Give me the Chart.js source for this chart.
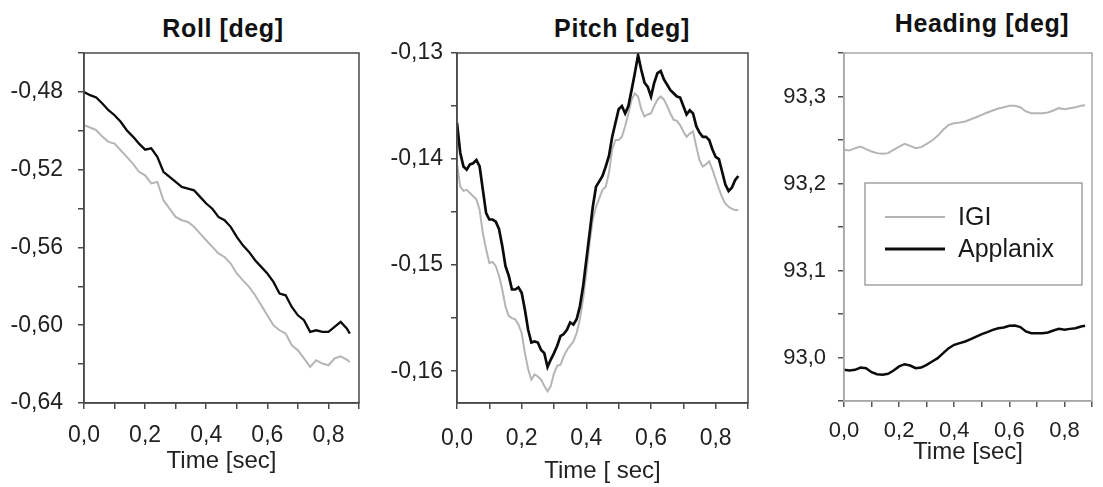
<!DOCTYPE html>
<html lang="en">
<head>
<meta charset="UTF-8">
<title>Roll / Pitch / Heading</title>
<script src="https://cdn.jsdelivr.net/npm/chart.js"></script>
<style>
body { margin: 0; background: #fff; font-family: "Liberation Sans", Arial, sans-serif; }
#wrap { position: relative; width: 1103px; height: 487px; overflow: hidden; }
#wrap canvas { position: absolute; top: 0; }
.ttl { position: absolute; font-weight: bold; font-size: 25px; line-height: 30px; color: #111;
       white-space: nowrap; transform: translateX(-50%); letter-spacing: 0.6px; }
</style>
</head>
<body>
<div id="wrap">
  <div class="ttl" style="left:223px; top:13px;">Roll [deg]</div>
  <div class="ttl" style="left:622px; top:13px;">Pitch [deg]</div>
  <div class="ttl" style="left:982px; top:8px;">Heading [deg]</div>
  <canvas id="roll" width="372" height="487" style="left:0px;"></canvas>
  <canvas id="pitch" width="392" height="487" style="left:372px;"></canvas>
  <canvas id="heading" width="339" height="487" style="left:764px;"></canvas>
</div>

<script>
// ---- data ----
const seriesNames = ['IGI', 'Applanix'];

const timeTicks = [0, 0.1, 0.2, 0.3, 0.4, 0.5, 0.6, 0.7, 0.8, 0.9];
const timeLabels = [0, 0.2, 0.4, 0.6, 0.8];

// Roll
const rollTime = [0,0.02,0.04,0.06,0.08,0.10,0.12,0.14,0.16,0.18,0.20,0.22,0.24,0.26,0.28,0.30,
  0.32,0.34,0.36,0.38,0.40,0.42,0.44,0.46,0.48,0.50,0.52,0.54,0.56,0.58,0.60,0.62,0.64,0.66,
  0.68,0.70,0.72,0.74,0.76,0.78,0.80,0.82,0.84,0.86,0.87];
const rollApplanix = [-0.4800,-0.4817,-0.4829,-0.4860,-0.4894,-0.4920,-0.4954,-0.4997,-0.5030,-0.5066,
  -0.5097,-0.5090,-0.5134,-0.5211,-0.5237,-0.5263,-0.5289,-0.5297,-0.5306,-0.5340,-0.5374,-0.5401,
  -0.5443,-0.5460,-0.5494,-0.5546,-0.5589,-0.5623,-0.5666,-0.5700,-0.5734,-0.5777,-0.5837,-0.5846,
  -0.5906,-0.5949,-0.5974,-0.6034,-0.6026,-0.6034,-0.6034,-0.6009,-0.5983,-0.6017,-0.6043];
const rollIGI = [-0.4971,-0.4983,-0.4997,-0.5030,-0.5057,-0.5066,-0.5100,-0.5134,-0.5169,-0.5211,
  -0.5229,-0.5271,-0.5263,-0.5357,-0.5400,-0.5443,-0.5460,-0.5469,-0.5494,-0.5529,-0.5563,-0.5597,
  -0.5631,-0.5649,-0.5683,-0.5734,-0.5769,-0.5803,-0.5846,-0.5897,-0.5949,-0.6000,-0.6026,-0.6043,
  -0.6103,-0.6129,-0.6171,-0.6214,-0.6180,-0.6197,-0.6206,-0.6171,-0.6160,-0.6177,-0.6189];
const rollTicks = [-0.64,-0.62,-0.60,-0.58,-0.56,-0.54,-0.52,-0.50,-0.48,-0.46];
const rollLabels = [-0.64,-0.60,-0.56,-0.52,-0.48];

// Pitch
const pitchTime = [0,0.01,0.02,0.03,0.04,0.05,0.06,0.07,0.08,0.09,0.10,0.11,0.12,0.13,0.14,0.15,
  0.16,0.17,0.18,0.19,0.20,0.21,0.22,0.23,0.24,0.25,0.26,0.27,0.28,0.29,0.30,0.31,0.32,0.33,0.34,
  0.35,0.36,0.37,0.38,0.39,0.40,0.41,0.42,0.43,0.44,0.45,0.46,0.47,0.48,0.49,0.50,0.51,0.52,0.53,
  0.54,0.55,0.56,0.57,0.58,0.59,0.60,0.61,0.62,0.63,0.64,0.65,0.66,0.67,0.68,0.69,0.70,0.71,0.72,
  0.73,0.74,0.75,0.76,0.77,0.78,0.79,0.80,0.81,0.82,0.83,0.84,0.85,0.86,0.87];
const pitchApplanix = [-0.1366,-0.1394,-0.1407,-0.1410,-0.1405,-0.1404,-0.1401,-0.1407,-0.1429,-0.1451,
  -0.1457,-0.1457,-0.1459,-0.1466,-0.1482,-0.1501,-0.1510,-0.1523,-0.1523,-0.1521,-0.1526,-0.1542,
  -0.1561,-0.1573,-0.1572,-0.1573,-0.1580,-0.1583,-0.1596,-0.1589,-0.1583,-0.1576,-0.1567,-0.1565,
  -0.1561,-0.1554,-0.1556,-0.1551,-0.1539,-0.1520,-0.1495,-0.1470,-0.1445,-0.1426,-0.1421,-0.1416,
  -0.1407,-0.1397,-0.1379,-0.1366,-0.1353,-0.1350,-0.1357,-0.1350,-0.1335,-0.1319,-0.1302,-0.1316,
  -0.1328,-0.1332,-0.1341,-0.1328,-0.1319,-0.1317,-0.1325,-0.1330,-0.1335,-0.1338,-0.1341,-0.1342,
  -0.1350,-0.1358,-0.1354,-0.1357,-0.1369,-0.1375,-0.1379,-0.1379,-0.1382,-0.1391,-0.1398,-0.1400,
  -0.1412,-0.1424,-0.1430,-0.1427,-0.1420,-0.1416];
const pitchIGI = [-0.1404,-0.1426,-0.1430,-0.1429,-0.1432,-0.1435,-0.1438,-0.1448,-0.1470,-0.1485,
  -0.1498,-0.1497,-0.1501,-0.1510,-0.1523,-0.1539,-0.1548,-0.1550,-0.1551,-0.1556,-0.1564,-0.1583,
  -0.1598,-0.1608,-0.1603,-0.1605,-0.1608,-0.1614,-0.1619,-0.1614,-0.1602,-0.1595,-0.1594,-0.1586,
  -0.1580,-0.1576,-0.1572,-0.1564,-0.1551,-0.1532,-0.1507,-0.1479,-0.1457,-0.1445,-0.1437,-0.1429,
  -0.1426,-0.1413,-0.1391,-0.1382,-0.1382,-0.1379,-0.1369,-0.1357,-0.1344,-0.1338,-0.1341,-0.1353,
  -0.1360,-0.1358,-0.1357,-0.1350,-0.1344,-0.1341,-0.1344,-0.1350,-0.1357,-0.1363,-0.1364,-0.1368,
  -0.1374,-0.1379,-0.1376,-0.1374,-0.1388,-0.1401,-0.1407,-0.1405,-0.1402,-0.1410,-0.1419,-0.1428,
  -0.1436,-0.1442,-0.1445,-0.1447,-0.1448,-0.1448];
const pitchTicks = [-0.16,-0.155,-0.15,-0.145,-0.14,-0.135,-0.13];
const pitchLabels = [-0.16,-0.15,-0.14,-0.13];

// Heading
const headingTime = [0,0.02,0.04,0.06,0.08,0.10,0.12,0.14,0.16,0.18,0.20,0.22,0.24,0.26,0.28,0.30,
  0.32,0.34,0.36,0.38,0.40,0.42,0.44,0.46,0.48,0.50,0.52,0.54,0.56,0.58,0.60,0.62,0.64,0.66,
  0.68,0.70,0.72,0.74,0.76,0.78,0.80,0.82,0.84,0.86,0.875];
const headingIGI = [93.2387,93.2380,93.2406,93.2425,93.2395,93.2368,93.2349,93.2341,93.2349,93.2387,
  93.2425,93.2456,93.2433,93.2406,93.2418,93.2456,93.2494,93.2548,93.2617,93.2674,93.2693,
  93.2701,93.2713,93.2739,93.2762,93.2789,93.2816,93.2839,93.2862,93.2877,93.2893,
  93.2893,93.2877,93.2828,93.2808,93.2808,93.2808,93.2816,93.2839,93.2866,93.2854,
  93.2866,93.2877,93.2893,93.2900];
const headingApplanix = [92.9858,92.9850,92.9858,92.9885,92.9877,92.9831,92.9808,92.9801,92.9812,92.9850,
  92.9897,92.9923,92.9908,92.9877,92.9885,92.9916,92.9954,92.9992,93.0050,93.0107,93.0146,
  93.0165,93.0184,93.0211,93.0241,93.0268,93.0291,93.0318,93.0337,93.0345,93.0364,
  93.0368,93.0349,93.0299,93.0280,93.0280,93.0280,93.0287,93.0310,93.0329,93.0318,
  93.0329,93.0337,93.0356,93.0364];
const headingTicks = [92.95,93.0,93.05,93.1,93.15,93.2,93.25,93.3,93.35];
const headingLabels = [93.0,93.1,93.2,93.3];

// ---- styling ----
const IGI_COLOR = '#b5b5b5';
const APX_COLOR = '#0b0b0b';
const FONT = '"Liberation Sans", Arial, sans-serif';

const has = (arr, v) => arr.some(a => Math.abs(a - v) < 1e-9);
const comma = (v, d) => v.toFixed(d).replace('.', ',');
const pts = (t, y) => t.map((x, i) => ({x: x, y: y[i]}));

// box round the plot area
const framePlugin = {
  id: 'frame',
  afterDatasetsDraw(chart, args, o) {
    const a = chart.chartArea, ctx = chart.ctx;
    ctx.save();
    ctx.strokeStyle = o.color;
    ctx.lineWidth = o.width;
    ctx.strokeRect(a.left, a.top, a.right - a.left, a.bottom - a.top);
    ctx.restore();
  }
};

// legend box inside the heading plot
const boxLegend = {
  id: 'boxLegend',
  afterDraw(chart, args, o) {
    const a = chart.chartArea, ctx = chart.ctx;
    ctx.save();
    ctx.strokeStyle = '#8a8a8a';
    ctx.lineWidth = 1.2;
    ctx.strokeRect(a.left + o.x, a.top + o.y, o.w, o.h);
    ctx.font = '25px ' + FONT;
    ctx.textBaseline = 'middle';
    ctx.fillStyle = '#1a1a1a';
    chart.data.datasets.forEach((ds, i) => {
      const y = a.top + o.rows[i];
      ctx.beginPath();
      ctx.strokeStyle = ds.borderColor;
      ctx.lineWidth = i ? 3 : 2;
      ctx.moveTo(a.left + o.lineX0, y);
      ctx.lineTo(a.left + o.lineX1, y);
      ctx.stroke();
      ctx.fillText(ds.label, a.left + o.textX, y + 1);
    });
    ctx.restore();
  }
};

function panel(id, p) {
  return new Chart(document.getElementById(id), {
    type: 'line',
    data: {
      datasets: [
        {label: seriesNames[0], data: pts(p.time, p.igi), borderColor: IGI_COLOR, borderWidth: 2,
         pointRadius: 0, tension: 0, order: 1},
        {label: seriesNames[1], data: pts(p.time, p.apx), borderColor: APX_COLOR, borderWidth: p.apxWidth,
         pointRadius: 0, tension: 0, order: 0}
      ]
    },
    options: {
      responsive: false,
      animation: false,
      devicePixelRatio: 1,
      layout: {padding: {left: 0, right: p.padRight, top: 53, bottom: 0}},
      plugins: {
        legend: {display: false},
        tooltip: {enabled: false},
        frame: {color: p.frameColor, width: 1.5},
        boxLegend: p.legend || {}
      },
      scales: {
        x: {
          type: 'linear', min: 0, max: 0.9,
          afterBuildTicks: s => { s.ticks = timeTicks.map(v => ({value: v})); },
          afterFit: s => { s.height = p.xHeight; },
          grid: {drawOnChartArea: false, tickLength: 6, color: p.tickColor, lineWidth: 1.5},
          border: {color: p.frameColor, width: 1.5},
          ticks: {font: {family: FONT, size: p.xFont}, color: '#222', padding: p.xPad, maxRotation: 0,
                  autoSkip: false, callback: v => has(timeLabels, v) ? comma(v, 1) : ''},
          title: {display: true, text: p.xTitle, color: '#222', font: {family: FONT, size: 24},
                  padding: {top: 0, bottom: p.xTitlePad}}
        },
        y: {
          type: 'linear', min: p.yMin, max: p.yMax,
          afterBuildTicks: s => { s.ticks = p.yTicks.map(v => ({value: v})); },
          afterFit: s => { s.width = p.yWidth; },
          grid: {drawOnChartArea: false, tickLength: 6, color: p.tickColor, lineWidth: 1.5},
          border: {color: p.frameColor, width: 1.5},
          ticks: {font: {family: FONT, size: p.yFont}, color: '#222', padding: p.yPad, autoSkip: false,
                  callback: v => has(p.yLabels, v) ? comma(v, p.dec) : ''}
        }
      }
    },
    plugins: p.legend ? [framePlugin, boxLegend] : [framePlugin]
  });
}

panel('roll', {
  time: rollTime, igi: rollIGI, apx: rollApplanix, apxWidth: 2.3,
  yMin: -0.64, yMax: -0.46, yTicks: rollTicks, yLabels: rollLabels, dec: 2,
  yWidth: 84, padRight: 13, xHeight: 84, xPad: 13, yPad: 15, xFont: 23, yFont: 23,
  xTitle: 'Time [sec]', xTitlePad: 11.6, frameColor: '#4a4a4a', tickColor: '#4a4a4a'
});

panel('pitch', {
  time: pitchTime, igi: pitchIGI, apx: pitchApplanix, apxWidth: 2.7,
  yMin: -0.163, yMax: -0.13, yTicks: pitchTicks, yLabels: pitchLabels, dec: 2,
  yWidth: 85, padRight: 2, xHeight: 84, xPad: 16, yPad: 8, xFont: 23, yFont: 23,
  xTitle: 'Time [ sec]', xTitlePad: 1.6, frameColor: '#4a4a4a', tickColor: '#4a4a4a'
});

panel('heading', {
  time: headingTime, igi: headingIGI, apx: headingApplanix, apxWidth: 2.5,
  yMin: 92.95, yMax: 93.35, yTicks: headingTicks, yLabels: headingLabels, dec: 1,
  yWidth: 80, padRight: 1.5, xHeight: 86, xPad: 11, yPad: 12, xFont: 22, yFont: 22,
  xTitle: 'Time [sec]', xTitlePad: 20.6, frameColor: '#a8a8a8', tickColor: '#555',
  legend: {x: 21, y: 130, w: 217, h: 102, lineX0: 41, lineX1: 101, textX: 114, rows: [164, 196]}
});
</script>
</body>
</html>
